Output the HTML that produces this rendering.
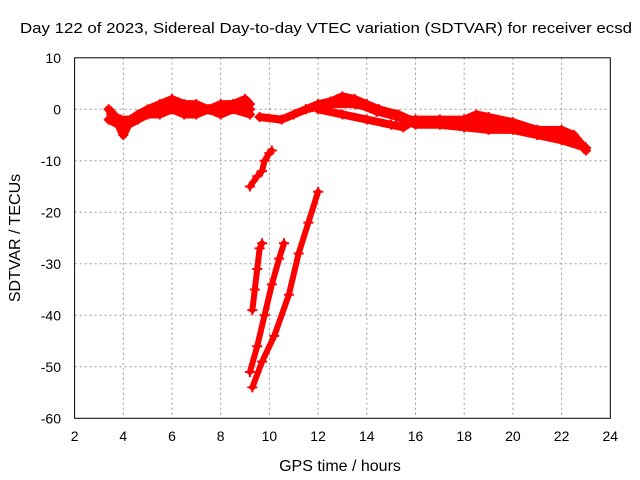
<!DOCTYPE html>
<html><head><meta charset="utf-8"><style>body{margin:0;background:#fff}svg{display:block}text{font-family:"Liberation Sans",sans-serif;font-size:14px;fill:#000}</style></head>
<body>
<svg id="c" width="640" height="480">
<text x="20" y="33" textLength="612" lengthAdjust="spacingAndGlyphs" style="font-size:15px">Day 122 of 2023, Sidereal Day-to-day VTEC variation (SDTVAR) for receiver ecsd</text>
<text x="340" y="471" text-anchor="middle" style="font-size:16px">GPS time / hours</text>
<text transform="translate(20,238) rotate(-90)" text-anchor="middle" style="font-size:16px">SDTVAR / TECUs</text>
<g id="grid"></g><g id="ticks"></g><g id="data"></g>
<rect x="74.6" y="57.8" width="535.7" height="360.5" fill="none" stroke="#000"/>
</svg>
<script>
const xTicks=[2,4,6,8,10,12,14,16,18,20,22,24];
const yTicks=[10,0,-10,-20,-30,-40,-50,-60];
const trackA1T=[3.4,3.6,3.8,4.0,4.3,4.6,5.0,5.5,6.0,6.5,7.0,7.5,8.0,8.5,9.0,9.2];
const trackA1V=[0,-1,-3,-5,-2,-1,0,1,2,1,1,0,1,1,2,1];
const trackA2T=[3.4,3.8,4.2,4.6,5.0,5.5,6.0,6.5,7.0,7.5,8.0,8.5,9.2];
const trackA2V=[-2,-3,-3,-2,-1,-1,0,-1,-1,0,-1,0,-1];
const trackA3T=[3.5,3.9,4.3,4.8,5.3,5.8,6.3,6.8,7.3,7.8,8.3,8.8,9.2];
const trackA3V=[-1,-2,-2,-1,0,0,1,0,0,-0.5,0,0.5,0];
const trackB1T=[9.6,10.5,11,11.5,12,12.5,13,13.5,14,14.5,15,15.5,16,17,18,19,20,21,22,23];
const trackB1V=[-1.5,-2,-1,0,1,1.5,2.5,2,1,0,-1,-2,-3,-3,-3.5,-4,-4,-5,-6,-7.5];
const trackB2T=[12,13,14,15,15.5,16,17,18,18.5,19,20,21,22,22.5,23];
const trackB2V=[0,-1,-2,-3,-3.5,-2,-2,-2,-1,-1.5,-2.5,-4,-5,-5,-8];
const trackB3T=[11.5,12.5,13.5,14.5,15.3,16,17,18,19,20,21,22,22.5];
const trackB3V=[0,1,1,0,-1,-2.5,-2,-3,-2,-3,-4,-4,-5];
const trackB4T=[12,12.8,13.6,14.4,15.2,16,17,18,19,20,21,22,22.8];
const trackB4V=[0.5,2,1,-0.5,-1.5,-2,-2.5,-2,-3,-3.5,-5,-5.5,-6.5];
const trackS1T=[9.2,9.5,9.7,9.8,10.0,10.1];
const trackS1V=[-15,-13,-12,-10,-8.5,-8];
const trackS2T=[9.3,9.4,9.5,9.6,9.7];
const trackS2V=[-39,-35,-31,-27,-26];
const trackS3T=[9.2,9.5,9.8,10.1,10.4,10.6];
const trackS3V=[-51,-46,-40,-34,-29,-26];
const trackS4T=[9.3,9.7,10.2,10.8,11.2,11.6,12.0];
const trackS4V=[-54,-49,-44,-36,-28,-22,-16];
const tracks=[[trackA1T,trackA1V,8],[trackA2T,trackA2V,8],[trackA3T,trackA3V,8],[trackB1T,trackB1V,8],[trackB2T,trackB2V,8],[trackB3T,trackB3V,8],[trackB4T,trackB4V,7],[trackS1T,trackS1V,6],[trackS2T,trackS2V,6],[trackS3T,trackS3V,6],[trackS4T,trackS4V,6]];
const X=t=>74.6+(t-2)*24.35, Y=v=>109.3-v*5.15;
const NS='http://www.w3.org/2000/svg';
const mk=(tag,at,p)=>{const e=document.createElementNS(NS,tag);for(const k in at)e.setAttribute(k,at[k]);p.appendChild(e);return e;};
const g=document.getElementById('grid'),tk=document.getElementById('ticks'),d=document.getElementById('data');
xTicks.forEach(t=>{const x=X(t);
 if(t>2&&t<24){const l=mk('line',{x1:x,x2:x,y1:57.8,y2:418.3,stroke:'#999','stroke-dasharray':'2,3'},g);
 
 }
 const s=mk('text',{x:x,y:441,'text-anchor':'middle'},tk);s.textContent=t;
 
 
});
yTicks.forEach(v=>{const y=Y(v);
 if(v<10&&v>-60){const l=mk('line',{x1:74.6,x2:610.3,y1:y,y2:y,stroke:'#999','stroke-dasharray':'2,3'},g);
 
 }
 const s=mk('text',{x:61,y:y+5,'text-anchor':'end'},tk);s.textContent=v;
 
 
});
tracks.forEach(([T,V,w],i)=>{
 const pts=T.map((t,j)=>X(t)+','+Y(V[j])).join(' ');
 const pl=mk('polyline',{points:pts,fill:'none',stroke:'#f00','stroke-width':w,'stroke-linejoin':'round','stroke-linecap':'round'},d);
 
 
 T.forEach((t,j)=>{const x=X(t),y=Y(V[j]);
  const m=mk('path',{d:`M${x-5},${y}h10M${x},${y-5}v10`,stroke:'#f00','stroke-width':2},d);
  
  
 });
});
</script>
</body></html>
